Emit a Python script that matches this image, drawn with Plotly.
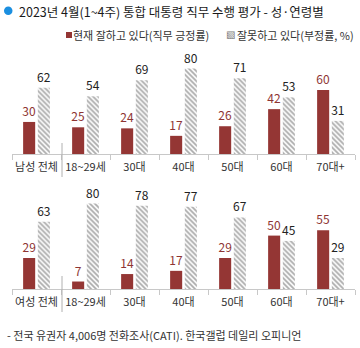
import plotly.graph_objects as go

W, H = 360, 348
FONT = "Noto Sans CJK KR"

age_groups = ["18~29세", "30대", "40대", "50대", "60대", "70대+"]
male_cats = ["남성 전체"] + age_groups
female_cats = ["여성 전체"] + age_groups
male_pos = [30, 25, 24, 17, 26, 42, 60]
male_neg = [62, 54, 69, 80, 71, 53, 31]
female_pos = [29, 7, 14, 17, 29, 50, 55]
female_neg = [63, 80, 78, 77, 67, 45, 29]

RED = "#943634"
RED_TXT = "#8e3533"

def px(x):
    return x / W

def py(y):
    return 1 - y / H

fig = go.Figure()

def add_panel(cats, pos, neg, xa, ya):
    fig.add_trace(go.Bar(
        x=cats, y=pos, xaxis=xa, yaxis=ya, marker=dict(color=RED, line=dict(width=0)),
        text=[str(v) for v in pos], textposition="outside",
        textfont=dict(color=RED_TXT, size=12, family=FONT), cliponaxis=False,
        constraintext="none", showlegend=False, hoverinfo="skip"))
    fig.add_trace(go.Bar(
        x=cats, y=neg, xaxis=xa, yaxis=ya,
        marker=dict(color="white", line=dict(width=0),
                    pattern=dict(shape="\\", fgcolor="#555555", bgcolor="white",
                                 size=3.5, solidity=0.5)),
        text=[str(v) for v in neg], textposition="outside",
        textfont=dict(color="#222222", size=12, family=FONT), cliponaxis=False,
        constraintext="none", showlegend=False, hoverinfo="skip"))

add_panel(male_cats, male_pos, male_neg, "x", "y")
add_panel(female_cats, female_pos, female_neg, "x2", "y2")

xdom = [px(12), px(355)]
top_base, bot_base = 154, 289
span = 94
YMAX = 88

axis_common = dict(showline=True, linecolor="#c8c8c8", linewidth=1, ticks="outside",
                   tickson="boundaries", ticklen=5, tickcolor="#c8c8c8", tickangle=0,
                   tickfont=dict(size=11, color="#333333", family=FONT),
                   showgrid=False, zeroline=False, fixedrange=True, ticklabelstandoff=3)
yaxis_common = dict(range=[0, YMAX], visible=False, showgrid=False, zeroline=False, fixedrange=True)

fig.update_layout(
    width=W, height=H, margin=dict(l=0, r=0, t=0, b=0),
    paper_bgcolor="white", plot_bgcolor="white",
    barmode="group", bargap=0.4, bargroupgap=0.18,
    font=dict(family=FONT),
    xaxis=dict(domain=xdom, anchor="y", **axis_common),
    yaxis=dict(domain=[py(top_base), py(top_base - span)], anchor="x", **yaxis_common),
    xaxis2=dict(domain=xdom, anchor="y2", **axis_common),
    yaxis2=dict(domain=[py(bot_base), py(bot_base - span)], anchor="x2", **yaxis_common),
)

shapes = [
    dict(type="circle", xref="paper", yref="paper", x0=px(4), x1=px(12.5), y0=py(15), y1=py(6.5),
         fillcolor="#1b8fe0", line=dict(width=0)),
    dict(type="line", xref="paper", yref="paper", x0=px(62), x1=px(62), y0=py(143), y1=py(177),
         line=dict(color="#b0b0b0", width=1)),
    dict(type="line", xref="paper", yref="paper", x0=px(62), x1=px(62), y0=py(276), y1=py(312),
         line=dict(color="#b0b0b0", width=1)),
    dict(type="rect", xref="paper", yref="paper", x0=px(66), x1=px(72), y0=py(38), y1=py(32),
         fillcolor=RED, line=dict(width=0)),
]
fig.update_layout(shapes=shapes)

def ann(text, x, y, size, color, xanchor="left", family=FONT):
    return dict(text=text, xref="paper", yref="paper", x=px(x), y=py(y),
                xanchor=xanchor, yanchor="middle", showarrow=False,
                font=dict(size=size, color=color, family=family))

annotations = [
    ann("2023년 4월(1~4주) 통합 대통령 직무 수행 평가 - 성·연령별", 17, 11, 12.5, "#1a1a1a"),
    ann("현재 잘하고 있다(직무 긍정률)", 71, 35, 11, "#333333"),
    ann("▧", 224, 35, 10, "#7a7a7a", family="DejaVu Sans"),
    ann("잘못하고 있다(부정률, %)", 235, 35, 11, "#333333"),
    ann("- 전국 유권자 4,006명 전화조사(CATI). 한국갤럽 데일리 오피니언", 5, 335, 11, "#333333"),
]
fig.update_layout(annotations=annotations)

fig.write_html("out.html")
